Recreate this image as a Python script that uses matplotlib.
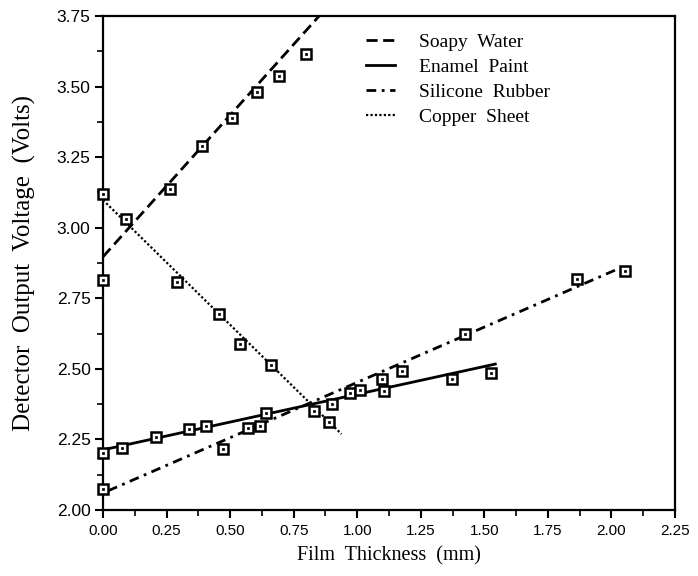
import numpy as np
import matplotlib.pyplot as plt
from matplotlib.ticker import MultipleLocator

soapy_x = [0.0, 0.263, 0.388, 0.506, 0.607, 0.693, 0.80]
soapy_y = [2.815, 3.137, 3.291, 3.39, 3.481, 3.537, 3.614]

enamel_x = [0.0, 0.076, 0.21, 0.338, 0.407, 0.643, 0.971, 1.106, 1.374, 1.525]
enamel_y = [2.201, 2.221, 2.26, 2.286, 2.299, 2.343, 2.416, 2.421, 2.463, 2.485]

silicone_x = [0.0, 0.473, 0.571, 0.617, 0.900, 1.010, 1.099, 1.176, 1.422, 1.866, 2.052]
silicone_y = [2.074, 2.215, 2.292, 2.299, 2.377, 2.424, 2.463, 2.494, 2.625, 2.818, 2.848]

copper_x = [0.0, 0.089, 0.292, 0.457, 0.540, 0.659, 0.830, 0.889]
copper_y = [3.118, 3.03, 2.809, 2.693, 2.587, 2.514, 2.350, 2.313]

# === Fitted lines (end points) ===
soapy_fit_x, soapy_fit_y = [0.0, 0.85], [2.897, 3.75]
enamel_fit_x, enamel_fit_y = [0.0, 1.543], [2.213, 2.517]
silicone_fit_x, silicone_fit_y = [0.02, 2.061], [2.068, 2.868]
copper_fit_x, copper_fit_y = [0.0, 0.938], [3.098, 2.269]

labels = ["Soapy  Water", "Enamel  Paint", "Silicone  Rubber", "Copper  Sheet"]

serif = "Liberation Serif"
sans = "Liberation Sans"

fig = plt.figure(figsize=(6.98, 5.76), dpi=100)
ax = fig.add_axes([0.1476, 0.1146, 0.8195, 0.8576])

ax.plot(soapy_fit_x, soapy_fit_y, color="black", lw=2.0, ls=(0, (4, 2)), label=labels[0])
ax.plot(enamel_fit_x, enamel_fit_y, color="black", lw=2.0, ls="-", label=labels[1])
ax.plot(silicone_fit_x, silicone_fit_y, color="black", lw=2.0, ls=(0, (3.5, 2, 1, 2)), label=labels[2])
ax.plot(copper_fit_x, copper_fit_y, color="black", lw=1.6, ls=(0, (1, 1)), label=labels[3])

# square markers with a dot in the middle
for xs, ys in [(soapy_x, soapy_y), (enamel_x, enamel_y),
               (silicone_x, silicone_y), (copper_x, copper_y)]:
    ax.plot(xs, ys, ls="none", marker="s", ms=6.5, mfc="white", mec="black",
            mew=1.8, zorder=5, clip_on=False)
    ax.plot(xs, ys, ls="none", marker="s", ms=1.6, mfc="black", mec="black",
            mew=0.5, zorder=6, clip_on=False)

ax.set_xlim(0, 2.25)
ax.set_ylim(2.0, 3.75)
ax.xaxis.set_major_locator(MultipleLocator(0.25))
ax.xaxis.set_minor_locator(MultipleLocator(0.125))
ax.yaxis.set_major_locator(MultipleLocator(0.25))
ax.yaxis.set_minor_locator(MultipleLocator(0.125))
ax.xaxis.set_major_formatter(plt.FormatStrFormatter("%.2f"))
ax.yaxis.set_major_formatter(plt.FormatStrFormatter("%.2f"))

ax.tick_params(which="major", direction="out", length=6, width=1.5, pad=4)
ax.tick_params(which="minor", direction="out", length=4, width=1.2)
ax.tick_params(axis="x", labelsize=11)
ax.tick_params(axis="y", labelsize=12.5, pad=3)
for lab in ax.get_xticklabels() + ax.get_yticklabels():
    lab.set_fontfamily(sans)

for side in ["left", "bottom", "right", "top"]:
    ax.spines[side].set_linewidth(1.6)

ax.set_xlabel("Film  Thickness  (mm)", fontsize=14.5, family=serif, labelpad=6)
ax.set_ylabel("Detector  Output  Voltage  (Volts)", fontsize=18, family=serif, labelpad=15)

ax.legend(loc="upper left", bbox_to_anchor=(0.46, 0.965), frameon=False,
          prop={"family": serif, "size": 14}, handlelength=1.5, handletextpad=1.2,
          labelspacing=0.38, borderpad=0, borderaxespad=0)

plt.savefig("out.png", dpi=100)
